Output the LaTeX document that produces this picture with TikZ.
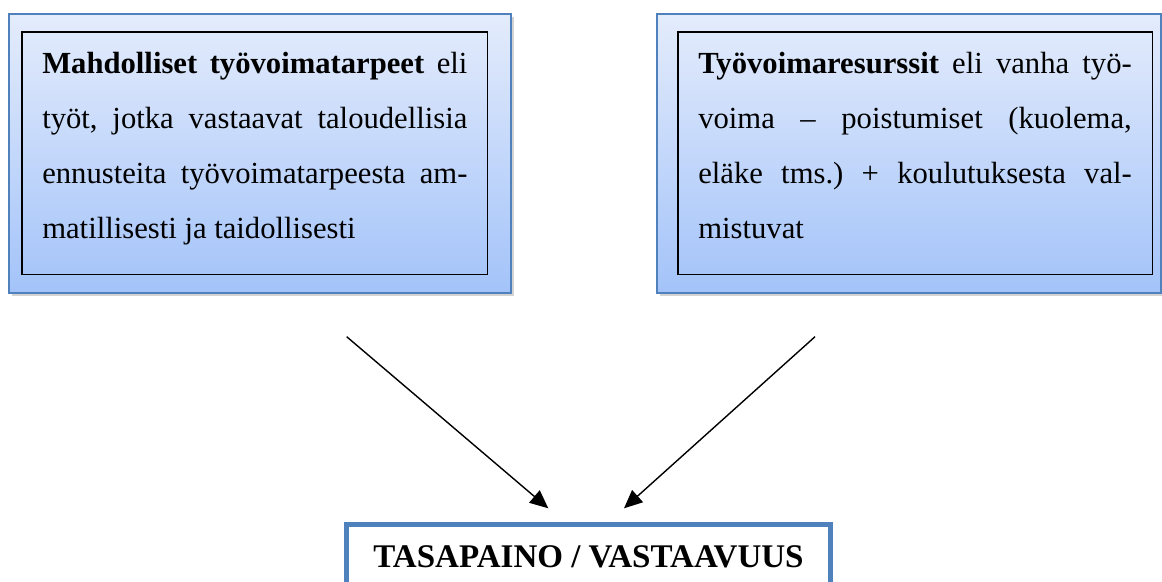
\documentclass[tikz,border=0pt]{standalone}
\usepackage{fontspec}
\setmainfont{Liberation Serif}
\usetikzlibrary{arrows.meta}
\usetikzlibrary{shadows}
\usetikzlibrary{positioning}
\definecolor{boxblue}{RGB}{79,129,189}
\definecolor{shadetop}{RGB}{228,236,252}
\definecolor{shadebot}{RGB}{163,195,249}

\begin{document}
\frenchspacing
\begin{tikzpicture}[x=0.025cm, y=-0.025cm]
    \tikzset{Outer/.style={rectangle, draw=boxblue, line width=1.2pt, top color=shadetop, bottom color=shadebot, drop shadow={shadow xshift=2pt, shadow yshift=-2pt, opacity=0.35}, anchor=north west, outer sep=0, minimum height=6.97cm}};
    \tikzset{Inner/.style={rectangle, draw=black, line width=0.8pt, anchor=north west, outer sep=0, minimum height=6.05cm}};
    \tikzset{Text/.style={anchor=north west, inner sep=0, align=justify, font=\fontsize{21.8}{39.26}\selectfont}};
    \tikzset{Final/.style={rectangle, draw=boxblue, fill=white, line width=3.5pt, anchor=north, minimum width=12.075cm, minimum height=1.6cm, font=\fontsize{23.5}{28}\selectfont\bfseries}};
    \tikzset{Arrow/.style={-{Triangle[length=13pt, width=11.5pt]}, line width=1pt}};

    \useasboundingbox (0,0) rectangle (1162,581);
    \clip (0,0) rectangle (1162,581);

    \node[Outer, minimum width=12.55cm](a) at (9,14) {};
    \node[Inner, minimum width=11.625cm](ai) at (22,32) {};
    \node[Text, text width=10.625cm](at) at (42,51.5) {\textbf{Mahdolliset työvoimatarpeet} eli\linebreak
      työt, jotka vastaavat taloudellisia\linebreak
      ennusteita työvoimatarpeesta am-\linebreak
      matillisesti ja taidollisesti};

    \node[Outer, minimum width=12.6cm](b) at (657,14) {};
    \node[Inner, minimum width=11.85cm](bi) at (678,32) {};
    \node[Text, text width=10.835cm](bt) at (698,51.5) {\textbf{Työvoimaresurssit} eli vanha työ-\linebreak
      voima – poistumiset (kuolema,\linebreak
      eläke tms.) + koulutuksesta val-\linebreak
      mistuvat};

    \node[Final](c) at (588.5,522) {TASAPAINO / VASTAAVUUS};

    \coordinate (p) at (346.7,336.7);
    \coordinate (q) at (815,336.7);
    \coordinate (p1) at (548.3,508.3);
    \coordinate (q1) at (624,508.3);

    \draw[Arrow] (p) --(p1);
    \draw[Arrow] (q) --(q1);
\end{tikzpicture}
\end{document}
